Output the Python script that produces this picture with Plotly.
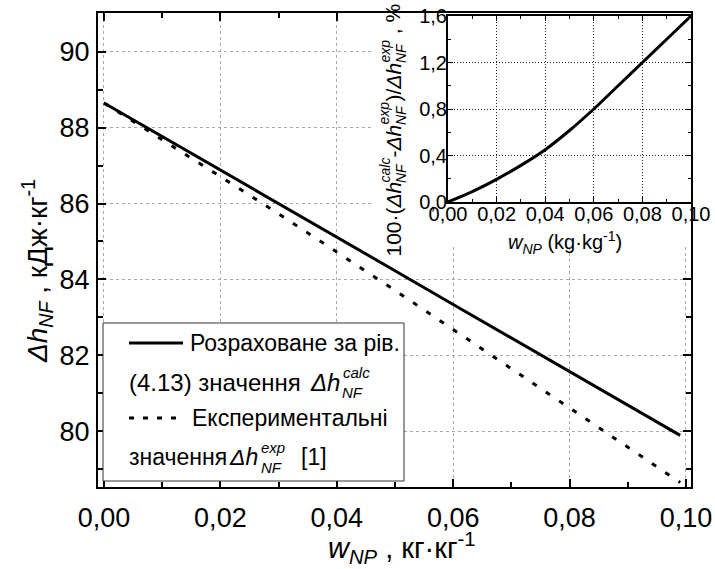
import plotly.graph_objects as go

# ---------------- data ----------------
# main panel: specific enthalpy change vs. nanoparticle mass fraction
w_main = [0.000, 0.010, 0.020, 0.030, 0.040, 0.050, 0.060, 0.070, 0.080, 0.090, 0.099]
dh_calc = [88.65, 87.77, 86.88, 86.00, 85.11, 84.23, 83.34, 82.46, 81.57, 80.69, 79.89]
dh_exp = [88.65, 87.69, 86.71, 85.73, 84.73, 83.71, 82.68, 81.65, 80.60, 79.57, 78.65]

# inset: relative deviation, %
w_inset = [0.00, 0.01, 0.02, 0.03, 0.04, 0.05, 0.06, 0.07, 0.08, 0.09, 0.10]
dev_pct = [0.00, 0.09, 0.195, 0.315, 0.45, 0.615, 0.80, 1.00, 1.20, 1.40, 1.60]

# tick labels (comma decimal separator)
x_main_ticks = [0.00, 0.02, 0.04, 0.06, 0.08, 0.10]
x_main_labels = ["0,00", "0,02", "0,04", "0,06", "0,08", "0,10"]
x_main_minor = [0.01, 0.03, 0.05, 0.07, 0.09]
y_main_ticks = [80, 82, 84, 86, 88, 90]
y_main_labels = ["80", "82", "84", "86", "88", "90"]
y_main_minor = [79, 81, 83, 85, 87, 89]

x_ins_ticks = [0.00, 0.02, 0.04, 0.06, 0.08, 0.10]
x_ins_labels = ["0,00", "0,02", "0,04", "0,06", "0,08", "0,10"]
x_ins_minor = [0.01, 0.03, 0.05, 0.07, 0.09]
y_ins_ticks = [0.0, 0.4, 0.8, 1.2, 1.6]
y_ins_labels = ["0,0", "0,4", "0,8", "1,2", "1,6"]
y_ins_minor = [0.2, 0.6, 1.0, 1.4]

# ---------------- geometry helpers ----------------
W, H = 715, 569
ML, MR, MT, MB = 98, 24, 13, 82
PW, PH = W - ML - MR, H - MT - MB
FONT = "Liberation Sans, Arial, sans-serif"


def px(x):
    return (x - ML) / PW


def py(y):
    return (H - MB - y) / PH


def ann(text, x, y, size, xanchor="center", yanchor="middle", angle=0):
    return dict(text=text, x=px(x), y=py(y), xref="paper", yref="paper",
                xanchor=xanchor, yanchor=yanchor, showarrow=False,
                textangle=angle, borderpad=0,
                font=dict(family=FONT, size=size, color="black"))


fig = go.Figure()

# main curves
fig.add_trace(go.Scatter(x=w_main, y=dh_calc, mode="lines", showlegend=False,
                         line=dict(color="black", width=3)))
fig.add_trace(go.Scatter(x=w_main, y=dh_exp, mode="lines", showlegend=False,
                         line=dict(color="black", width=3, dash="5px,11px")))

# blank white panel that hosts the inset and its labels
fig.add_trace(go.Scatter(x=[], y=[], xaxis="x2", yaxis="y2", showlegend=False,
                         hoverinfo="skip"))

# inset curve
fig.add_trace(go.Scatter(x=w_inset, y=dev_pct, mode="lines", xaxis="x3", yaxis="y3",
                         showlegend=False,
                         line=dict(color="black", width=3, shape="spline", smoothing=0.6)))

axis_common = dict(showline=True, linecolor="black", ticks="inside", tickcolor="black",
                   mirror="ticks", zeroline=False, tickmode="array", automargin=False)

fig.update_layout(
    template="none",
    width=W, height=H,
    margin=dict(l=ML, r=MR, t=MT, b=MB, autoexpand=False),
    paper_bgcolor="white", plot_bgcolor="white",
    font=dict(family=FONT, color="black"),
    xaxis=dict(domain=[0, 1], range=[-0.00103, 0.10086],
               tickvals=x_main_ticks, ticktext=x_main_labels,
               ticklen=8, tickwidth=1.5, linewidth=2,
               tickfont=dict(size=27, family=FONT, color="black"),
               ticklabelstandoff=6,
               minor=dict(tickvals=x_main_minor, ticks="inside", ticklen=5,
                          tickwidth=1.5, tickcolor="black", showgrid=False),
               showgrid=True, gridcolor="#a8a8a8", gridwidth=1, griddash="3px,3px",
               **axis_common),
    yaxis=dict(domain=[0, 1], range=[78.53, 91.02],
               tickvals=y_main_ticks, ticktext=y_main_labels,
               ticklen=8, tickwidth=1.5, linewidth=2,
               tickfont=dict(size=27, family=FONT, color="black"),
               ticklabelstandoff=1,
               minor=dict(tickvals=y_main_minor, ticks="inside", ticklen=5,
                          tickwidth=1.5, tickcolor="black", showgrid=False),
               showgrid=True, gridcolor="#a8a8a8", gridwidth=1, griddash="3px,3px",
               **axis_common),
    xaxis2=dict(domain=[px(372), 1.0], anchor="y2", range=[0, 1], visible=False,
                automargin=False),
    yaxis2=dict(domain=[py(245), 1.0], anchor="x2", range=[0, 1], visible=False,
                automargin=False),
    xaxis3=dict(domain=[px(448), 1.0], anchor="y3", range=[0, 0.1],
                tickvals=x_ins_ticks, ticktext=x_ins_labels,
                ticklen=5, tickwidth=1.2, linewidth=2,
                tickfont=dict(size=20, family=FONT, color="black"),
                ticklabelstandoff=-7,
                minor=dict(tickvals=x_ins_minor, ticks="inside", ticklen=3,
                           tickwidth=1.2, tickcolor="black", showgrid=False),
                showgrid=True, gridcolor="#222222", gridwidth=1, griddash="1px,2px",
                **axis_common),
    yaxis3=dict(domain=[py(202), py(16)], anchor="x3", range=[0, 1.6],
                tickvals=y_ins_ticks, ticktext=y_ins_labels,
                ticklen=5, tickwidth=1.2, linewidth=2,
                tickfont=dict(size=20, family=FONT, color="black"),
                ticklabelstandoff=-5,
                minor=dict(tickvals=y_ins_minor, ticks="inside", ticklen=3,
                           tickwidth=1.2, tickcolor="black", showgrid=False),
                showgrid=True, gridcolor="#222222", gridwidth=1, griddash="1px,2px",
                **axis_common),
)

# ---------------- legend box ----------------
shapes = [
    dict(type="rect", xref="paper", yref="paper", layer="above",
         x0=px(103), x1=px(404), y0=py(481), y1=py(323),
         fillcolor="white", line=dict(color="#333333", width=1)),
    dict(type="line", xref="paper", yref="paper", layer="above",
         x0=px(129), x1=px(183), y0=py(343), y1=py(343),
         line=dict(color="black", width=3)),
    dict(type="line", xref="paper", yref="paper", layer="above",
         x0=px(129), x1=px(178), y0=py(418), y1=py(418),
         line=dict(color="black", width=3, dash="5px,9px")),
]
fig.update_layout(shapes=shapes)

LG = 23   # legend text size
SS = 15   # legend script size
annotations = [
    ann("Розраховане за рів.", 189, 343, LG, xanchor="left"),
    ann("(4.13) значення", 128, 382, 24, xanchor="left"),
    ann("<i>Δh</i>", 341, 382, 24, xanchor="right"),
    ann("<i>calc</i>", 342, 372, SS, xanchor="left"),
    ann("<i>NF</i>", 341, 392, SS, xanchor="left"),
    ann("Експериментальні", 191, 418, LG, xanchor="left"),
    ann("значення", 128, 457, LG, xanchor="left"),
    ann("<i>Δh</i>", 259, 457, LG, xanchor="right"),
    ann("<i>exp</i>", 260, 447, SS, xanchor="left"),
    ann("<i>NF</i>", 260, 467, SS, xanchor="left"),
    ann("[1]", 300, 457, LG, xanchor="left"),
]

# ---------------- axis titles ----------------
annotations += [
    ann("<i>Δh</i><sub><i>NF</i></sub> , кДж·кг<sup>-1</sup>", 37, 271, 28, angle=-90),
    ann("<i>w</i><sub><i>NP</i></sub> , кг·кг<sup>-1</sup>", 402, 548, 29),
    ann("<i>w</i><sub><i>NP</i></sub> (kg·kg<sup>-1</sup>)", 565, 243, 20),
]

# inset y title, written bottom-to-top with stacked super/subscripts
MAIN_X, SUP_X, SUB_X = 393, 384, 401
title_parts = [
    ("100·(<i>Δh</i>", 258, "main"),
    ("<i>calc</i>", 184, "sup"), ("<i>NF</i>", 184, "sub"),
    ("-<i>Δh</i>", 159, "main"),
    ("<i>exp</i>", 126, "sup"), ("<i>NF</i>", 126, "sub"),
    (")/<i>Δh</i>", 103, "main"),
    ("<i>exp</i>", 64, "sup"), ("<i>NF</i>", 64, "sub"),
    ("\u00a0,\u00a0%", 41, "main"),
]
for text, start, kind in title_parts:
    if kind == "main":
        annotations.append(ann(text, MAIN_X, start, 21, yanchor="bottom", angle=-90))
    elif kind == "sup":
        annotations.append(ann(text, SUP_X, start, 14, yanchor="bottom", angle=-90))
    else:
        annotations.append(ann(text, SUB_X, start, 14, yanchor="bottom", angle=-90))

fig.update_layout(annotations=annotations)

fig.write_html("out.html")
